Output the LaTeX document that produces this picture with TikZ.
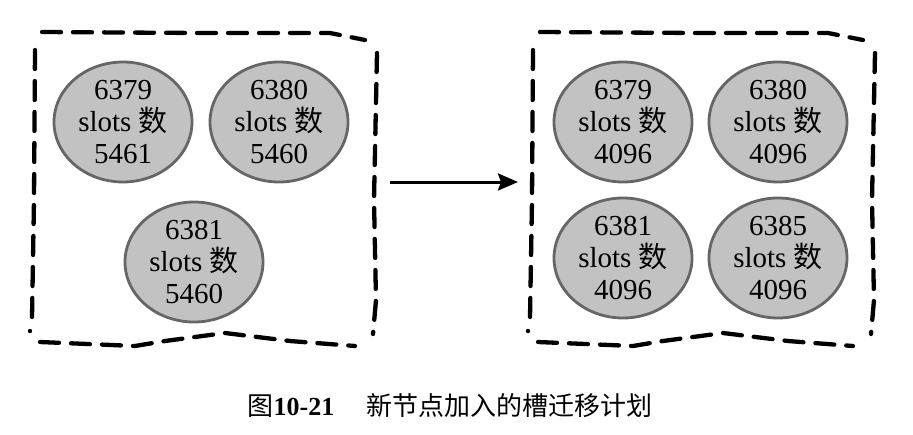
\documentclass[tikz,border=0pt]{standalone}
\usepackage{fontspec}
\setmainfont{Liberation Serif}
\newfontfamily\cjk{Noto Sans CJK SC}
\usepackage{tikz}
\usetikzlibrary{shapes.geometric,arrows.meta}
\definecolor{shardgray}{rgb}{0.76,0.76,0.76}
\definecolor{rimgray}{rgb}{0.40,0.40,0.40}
\tikzstyle{shard}=[ellipse, fill=shardgray, draw=rimgray, line width=2.8pt, minimum width=138pt, minimum height=120pt, inner sep=0pt, align=center, font=\fontsize{29}{32}\selectfont]
\tikzstyle{sketchframe}=[draw=black, line width=4.3pt, dash pattern=on 19pt off 12pt, line cap=round]
\tikzstyle{move}=[-{Stealth[length=20pt,width=17pt,inset=3pt]}, line width=3pt]
\tikzstyle{caption}=[font=\fontsize{26}{30}\selectfont]
\begin{document}
\begin{tikzpicture}[x=1pt, y=-1pt]
            \useasboundingbox (0,0) rectangle (913,434);
            % hand drawn frames
            \foreach \dx in {0, 498} {
                \begin{scope}[xshift=\dx pt]
                    \draw [style=sketchframe] (42,32) -- (200,33) -- (330,33) -- (365,40);
                    \draw [style=sketchframe] (377,53) -- (374,200) -- (376,300) -- (373,334);
                    \draw [style=sketchframe] (35,50) -- (34,200) -- (32,318);
                    \fill (30,331) circle (2.2);
                    \draw [style=sketchframe] (40,342) -- (135,346) -- (165,341) -- (225,333) -- (290,341) -- (355,346);
                \end{scope}
            }

            \node [style=shard] (a6379) at (123,122) {6379\\slots {\cjk 数}\\5461};
            \node [style=shard] (a6380) at (279,122) {6380\\slots {\cjk 数}\\5460};
            \node [style=shard] (a6381) at (194,262) {6381\\slots {\cjk 数}\\5460};

            \node [style=shard] (b6379) at (623,122) {6379\\slots {\cjk 数}\\4096};
            \node [style=shard] (b6380) at (778,122) {6380\\slots {\cjk 数}\\4096};
            \node [style=shard] (b6381) at (623,258) {6381\\slots {\cjk 数}\\4096};
            \node [style=shard] (b6385) at (778,258) {6385\\slots {\cjk 数}\\4096};

            \coordinate (before) at (390,182);
            \coordinate (after) at (518,182);
            \draw [style=move] (before) to (after);

            \node [style=caption] (title) at (450,406) {{\cjk 图}\textbf{10-21}\hspace{32pt}{\cjk 新节点加入的槽迁移计划}};
\end{tikzpicture}
\end{document}
